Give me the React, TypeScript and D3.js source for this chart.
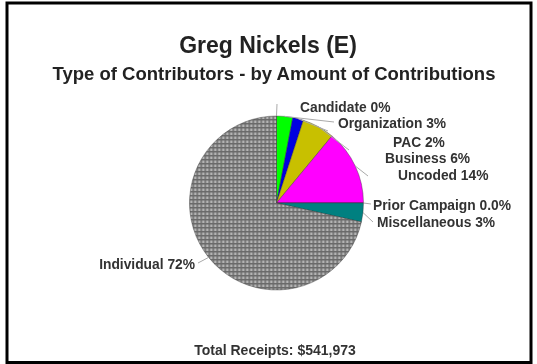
import React from "react";
import * as d3 from "d3";

const categories = ["Candidate", "Organization", "PAC", "Business", "Uncoded", "Prior Campaign", "Miscellaneous", "Individual"];
const values = [0, 3, 2, 6, 14, 0, 3.5, 71.5];
const labelTexts = ["Candidate 0%", "Organization 3%", "PAC 2%", "Business 6%", "Uncoded 14%", "Prior Campaign 0.0%", "Miscellaneous 3%", "Individual 72%"];
const colors = ["#808080", "#00ff00", "#0000e0", "#c8c000", "#ff00ff", "#808080", "#008080", "url(#grid)"];
// label layout positions (x, y, anchor) and leader end points
const labelPos: [number, number, string][] = [
  [300, 107, "start"],
  [338, 123, "start"],
  [393, 142, "start"],
  [385, 158, "start"],
  [398, 175, "start"],
  [373, 205, "start"],
  [377, 222, "start"],
  [195, 264, "end"],
];
const leaderEnds: [number, number][] = [
  [277, 104],
  [334, 122],
  [328, 131],
  [349, 150],
  [368, 176],
  [371, 204],
  [373, 222],
  [198, 263],
];

export default function App() {
  const W = 537, H = 364;
  const cx = 276.5, cy = 203, r = 87;
  const pie = d3.pie<number>().sort(null).value((d) => d)(values);
  const arc = d3.arc<d3.PieArcDatum<number>>().innerRadius(0).outerRadius(r);
  const font = "Arial, 'Liberation Sans', sans-serif";
  return (
    <svg width={W} height={H} style={{ position: "absolute", left: 0, top: 0 }}>
      <defs>
        <pattern id="grid" width="4" height="4" patternUnits="userSpaceOnUse">
          <rect width="4" height="4" fill="#b4b4b4" />
          <rect width="4" height="1.5" fill="#6a6a6a" />
          <rect width="1.5" height="4" fill="#6a6a6a" />
        </pattern>
        <filter id="blur" x="-5%" y="-20%" width="110%" height="140%">
          <feGaussianBlur stdDeviation="0.35" />
        </filter>
      </defs>
      <rect x={0} y={0} width={W} height={H} fill="#fff" />
      <rect x={7} y={3} width={524} height={359.5} fill="none" stroke="#000" strokeWidth={3} />
      <g transform={`translate(${cx},${cy})`}>
        {pie.map((p, i) => (
          <path key={categories[i]} d={arc(p) || ""} fill={colors[i]} stroke="#333" strokeWidth={0.4} />
        ))}
      </g>
      {pie.map((p, i) => {
        const a = (p.startAngle + p.endAngle) / 2;
        const ex = cx + r * Math.sin(a);
        const ey = cy - r * Math.cos(a);
        const [tx, ty] = leaderEnds[i];
        return (
          <line key={"l" + i} x1={ex} y1={ey} x2={tx} y2={ty} stroke="#aaa" strokeWidth={1} />
        );
      })}
      <g filter="url(#blur)" fontFamily={font} fontWeight="bold" fill="#222">
        <text x={268} y={53} textAnchor="middle" fontSize={23}>Greg Nickels (E)</text>
        <text x={274} y={80} textAnchor="middle" fontSize={18.5}>Type of Contributors - by Amount of Contributions</text>
        {labelTexts.map((t, i) => (
          <text key={t} x={labelPos[i][0]} y={labelPos[i][1]} dy="0.35em" textAnchor={labelPos[i][2]} fontSize={13.8} fill="#333">
            {t}
          </text>
        ))}
        <text x={275} y={355} textAnchor="middle" fontSize={14} fill="#333">Total Receipts: $541,973</text>
      </g>
    </svg>
  );
}
